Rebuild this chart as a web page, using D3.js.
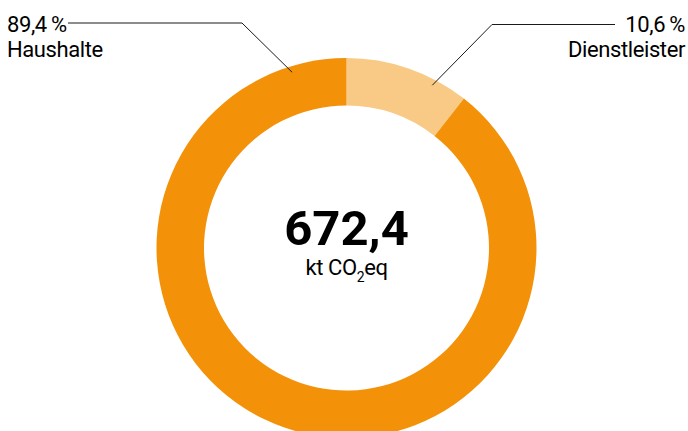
<!DOCTYPE html>
<html>
<head>
<meta charset="utf-8">
<script src="https://cdn.jsdelivr.net/npm/d3@7"></script>
<style>
  body { margin: 0; background: #fff; }
  svg { display: block; font-family: Roboto, "DejaVu Sans", sans-serif; }
</style>
</head>
<body>
<script>
// Data
var categories = ["Dienstleister", "Haushalte"];
var shares = [10.6, 89.4];
var colors = ["#f9ca85", "#f39208"];
var total = "672,4";
var unit = "kt CO";

drawDonut();

function drawDonut(){

  var w = 688;
  var h = 431;

  var svg = d3.select("body")
              .append("svg")
              .attr("width", w)
              .attr("height", h);

  // Ring geometry
  var cx = 346.5, cy = 248;
  var outer = 190, inner = 142.5;

  var data = categories.map((c, i) => ({name: c, value: shares[i], color: colors[i]}));

  var pie = d3.pie()
              .sort(null)
              .value(d => d.value);

  var arc = d3.arc()
              .innerRadius(inner)
              .outerRadius(outer);

  var graph = svg.append("g")
                 .attr("transform", `translate(${cx}, ${cy})`);

  graph.selectAll("path")
       .data(pie(data))
       .enter()
       .append("path")
       .attr("d", arc)
       .attr("fill", d => d.data.color);

  // Total in the middle
  graph.append("text")
       .attr("text-anchor", "middle")
       .attr("y", -3)
       .attr("font-size", 49)
       .attr("font-weight", "bold")
       .attr("fill", "#000")
       .text(total);

  var u = graph.append("text")
       .attr("text-anchor", "middle")
       .attr("y", 27)
       .attr("font-size", 22)
       .attr("letter-spacing", -0.4)
       .attr("fill", "#000");
  u.append("tspan").text(unit);
  u.append("tspan").attr("font-size", 14).attr("dy", 7).text("2");
  u.append("tspan").attr("dy", -7).text("eq");

  // Labels with leader lines (layout per category)
  var layout = {
    "Haushalte":     {angle: 342.8, elbowX: 242, lineY: 23, endX: 68, textX: 7, anchor: "start"},
    "Dienstleister": {angle: 27.8, elbowX: 492, lineY: 24.5, endX: 615, textX: 685, anchor: "end"}
  };

  var pointArc = d3.arc().innerRadius(184).outerRadius(184);

  data.forEach(d => {
    var l = layout[d.name];
    var a = l.angle * Math.PI / 180;
    var p = pointArc.centroid({startAngle: a, endAngle: a});
    var px = cx + p[0], py = cy + p[1];

    svg.append("path")
       .attr("d", d3.line()([[px, py], [l.elbowX, l.lineY], [l.endX, l.lineY]]))
       .attr("fill", "none")
       .attr("stroke", "#1a1a1a")
       .attr("stroke-width", 1);

    var t = svg.append("text")
               .attr("x", l.textX)
               .attr("text-anchor", l.anchor)
               .attr("font-size", 22)
               .attr("letter-spacing", -0.4)
               .attr("fill", "#000");
    t.append("tspan")
     .attr("x", l.textX)
     .attr("y", 31.5)
     .text(d3.format(".1f")(d.value).replace(".", ",") + "\u2009%");
    t.append("tspan")
     .attr("x", l.textX)
     .attr("y", 57)
     .text(d.name);
  });

};
</script>
</body>
</html>
